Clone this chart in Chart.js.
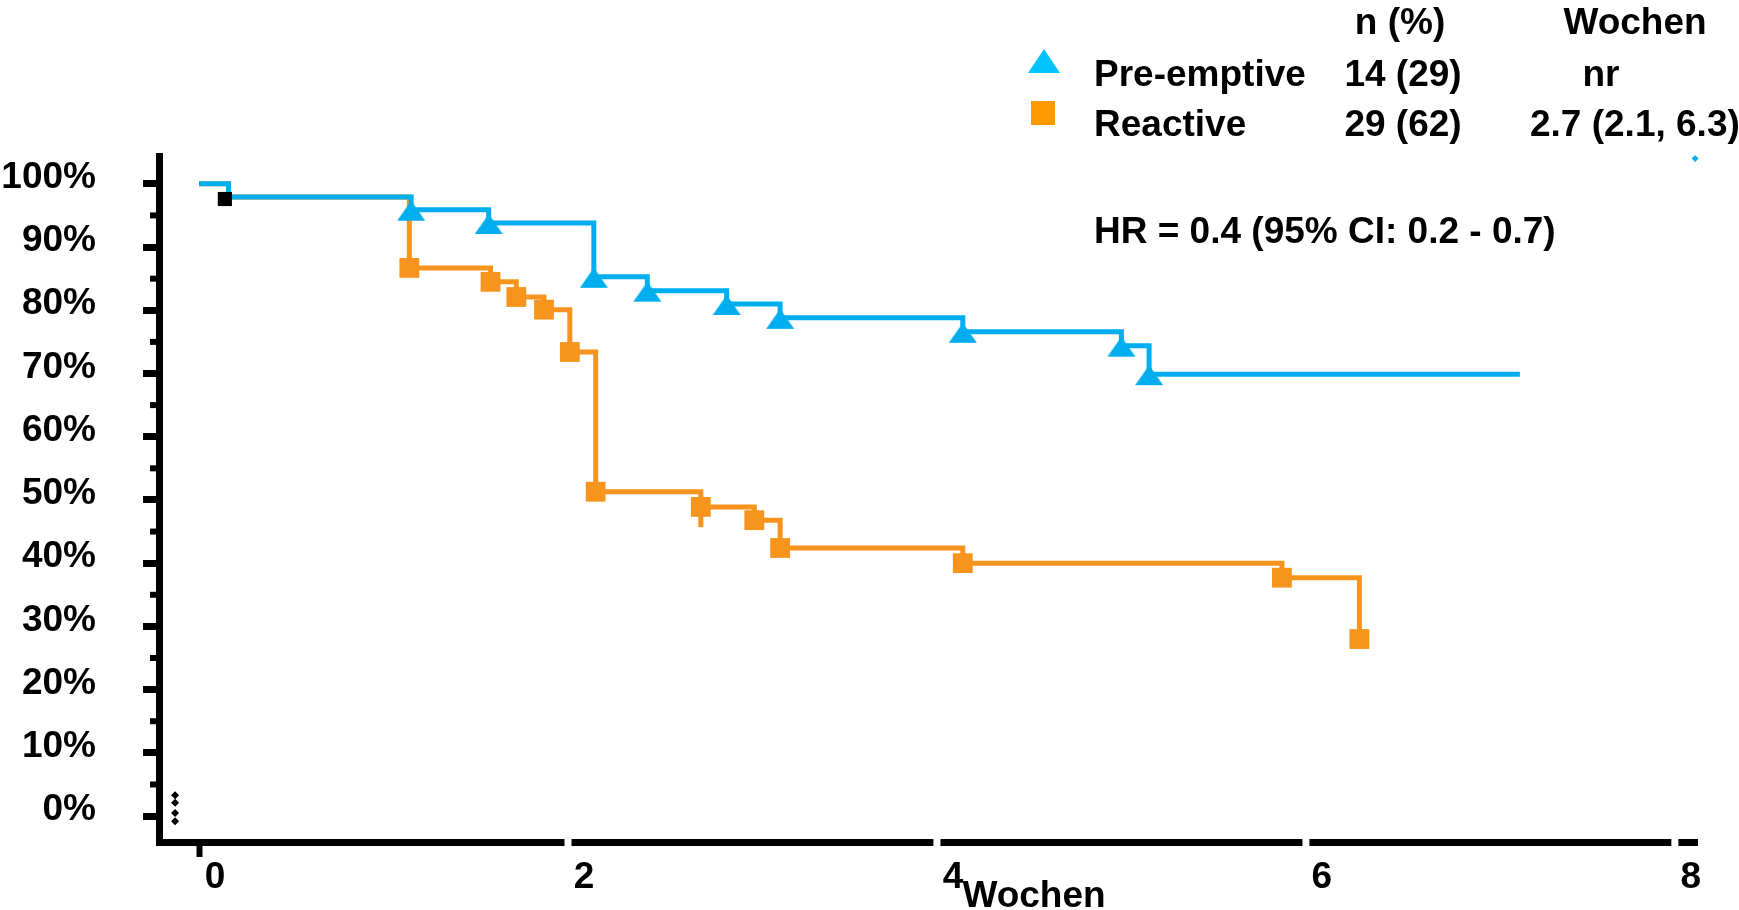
<!DOCTYPE html>
<html>
<head>
<meta charset="utf-8">
<script src="https://cdn.jsdelivr.net/npm/chart.js@4/dist/chart.umd.min.js"></script>
<style>
  html, body { margin: 0; padding: 0; background: #fff; }
  canvas { display: block; }
</style>
</head>
<body>
<canvas id="kmChart" width="1739" height="910"></canvas>
<script>
// Kaplan-Meier curves (x: Wochen, y: %)
const preTimes = [0, 0.16, 1.15, 1.57, 2.14, 2.43, 2.86, 3.15, 4.14, 5.0, 5.15, 7.16];
const preSurv  = [100, 97.9, 95.9, 93.8, 85.3, 83.1, 81.0, 78.8, 76.6, 74.4, 69.9, 69.9];
const preMarks = [0, 0, 1, 1, 1, 1, 1, 1, 1, 1, 1, 0];

const reaTimes = [0, 0.16, 1.14, 1.58, 1.72, 1.87, 2.01, 2.15, 2.72, 3.01, 3.15, 4.14, 5.87, 6.29];
const reaSurv  = [100, 97.9, 86.7, 84.5, 82.1, 80.1, 73.4, 51.3, 48.9, 46.8, 42.4, 40.0, 37.7, 28.0];
const reaMarks = [0, 0, 1, 1, 1, 1, 1, 1, 1, 1, 1, 1, 1, 1];

// stray marks in the original picture
const blackMarkX = [0.14];
const blackMarkY = [97.6];
const censorX = [-0.13, -0.13, -0.13, -0.13];
const censorY = [3.3, 2.1, 0.5, -0.8];
const orangeTickX = [2.72];
const orangeTickY = [46.8];
const blueDotX = [8.11];
const blueDotY = [104];

// table at top right
const tableHead = ['n (%)', 'Wochen'];
const groupNames = ['Pre-emptive', 'Reactive'];
const groupN = ['14 (29)', '29 (62)'];
const groupMedian = ['nr', '2.7 (2.1, 6.3)'];
const hrText = 'HR = 0.4 (95% CI: 0.2 - 0.7)';
const xTitle = 'Wochen';

const FONT = '"Liberation Sans", Arial, Helvetica, sans-serif';
const BLUE = '#00AEEF';
const ORANGE = '#F7941D';

function pts(xs, ys) {
    return xs.map(function(x, i) { return {x: x, y: ys[i]}; });
}

// triangle marker that hangs a bit below the step, like the original
function triangleMarker(color) {
    const c = document.createElement('canvas');
    c.width = 30; c.height = 40;
    const g = c.getContext('2d');
    g.fillStyle = color;
    g.beginPath();
    g.moveTo(15, 11);
    g.lineTo(29, 31);
    g.lineTo(1, 31);
    g.closePath();
    g.fill();
    return c;
}
const triImg = triangleMarker(BLUE);

const decorations = {
    id: 'decorations',
    afterDraw: function(chart) {
        const ctx = chart.ctx;
        const xs = chart.scales.x;
        const ys = chart.scales.y;
        ctx.save();

        // minor ticks on y axis
        ctx.strokeStyle = '#000';
        ctx.lineWidth = 6;
        for (let v = 5; v < 100; v += 10) {
            const py = ys.getPixelForValue(v);
            ctx.beginPath();
            ctx.moveTo(150, py);
            ctx.lineTo(159, py);
            ctx.stroke();
        }
        // white notches in x axis
        ctx.fillStyle = '#fff';
        [2, 4, 6, 8].forEach(function(v) {
            const px = xs.getPixelForValue(v);
            ctx.fillRect(px - 3.5, xs.top - 5, 7, 10);
        });

        ctx.fillStyle = '#000';
        ctx.font = 'bold 37px ' + FONT;
        ctx.textBaseline = 'alphabetic';

        ctx.textAlign = 'center';
        ctx.fillText(tableHead[0], 1400, 34);
        ctx.fillText(tableHead[1], 1635, 34);
        ctx.fillText(groupN[0], 1403, 86);
        ctx.fillText(groupN[1], 1403, 136);
        ctx.fillText(groupMedian[0], 1601, 86);
        ctx.fillText(xTitle, 1034, 907);

        ctx.textAlign = 'left';
        ctx.fillText(groupNames[0], 1094, 86);
        ctx.fillText(groupNames[1], 1094, 136);
        ctx.fillText(groupMedian[1], 1530, 136);
        ctx.fillText(hrText, 1094, 243);

        // legend symbols
        ctx.fillStyle = '#00C4FF';
        ctx.beginPath();
        ctx.moveTo(1044, 49);
        ctx.lineTo(1060, 73);
        ctx.lineTo(1028, 73);
        ctx.closePath();
        ctx.fill();
        ctx.fillStyle = '#FF9900';
        ctx.fillRect(1031, 101, 24, 24);

        ctx.restore();
    }
};

const ctx = document.getElementById('kmChart').getContext('2d');
const myChart = new Chart(ctx, {
    type: 'line',
    data: {
        datasets: [
            {
                label: 'marks',
                data: pts(blackMarkX, blackMarkY),
                showLine: false,
                pointStyle: 'rect',
                pointRadius: 10,
                pointBackgroundColor: '#000',
                pointBorderWidth: 0,
                order: 0
            },
            {
                label: 'censor',
                data: pts(censorX, censorY),
                showLine: false,
                pointStyle: 'rectRot',
                pointRadius: 4,
                pointBackgroundColor: '#000',
                pointBorderWidth: 0,
                clip: false,
                order: 0
            },
            {
                label: 'orange tick',
                data: pts(orangeTickX, orangeTickY),
                showLine: false,
                pointStyle: 'line',
                rotation: 90,
                pointRadius: 7,
                pointBorderColor: ORANGE,
                pointBorderWidth: 5,
                order: 0
            },
            {
                label: 'blue dot',
                data: pts(blueDotX, blueDotY),
                showLine: false,
                pointStyle: 'rectRot',
                pointRadius: 3.5,
                pointBackgroundColor: BLUE,
                pointBorderWidth: 0,
                clip: false,
                order: 0
            },
            {
                label: 'Pre-emptive',
                data: pts(preTimes, preSurv),
                stepped: 'before',
                borderColor: BLUE,
                borderWidth: 5,
                fill: false,
                pointStyle: triImg,
                pointRadius: preMarks.map(function(m) { return m ? 14 : 0; }),
                pointBackgroundColor: BLUE,
                pointBorderWidth: 0,
                order: 1
            },
            {
                label: 'Reactive',
                data: pts(reaTimes, reaSurv),
                stepped: 'before',
                borderColor: ORANGE,
                borderWidth: 5,
                fill: false,
                pointStyle: 'rect',
                pointRadius: reaMarks.map(function(m) { return m ? 14 : 0; }),
                pointBackgroundColor: ORANGE,
                pointBorderWidth: 0,
                order: 2
            }
        ]
    },
    options: {
        responsive: false,
        animation: false,
        layout: { padding: { top: 156, right: 42, bottom: 0, left: 0 } },
        plugins: {
            legend: { display: false },
            tooltip: { enabled: false },
            title: { display: false }
        },
        scales: {
            x: {
                type: 'linear',
                min: -0.217,
                max: 8.12,
                border: { display: true, color: '#000', width: 7 },
                grid: {
                    drawOnChartArea: false,
                    drawTicks: true,
                    tickLength: 15,
                    tickWidth: 6,
                    tickColor: function(c) {
                        return (c.tick && c.tick.value === 0) ? '#000' : 'rgba(0,0,0,0)';
                    }
                },
                ticks: {
                    stepSize: 2,
                    includeBounds: false,
                    autoSkip: false,
                    maxRotation: 0,
                    labelOffset: 16,
                    padding: -1,
                    color: '#000',
                    font: { family: FONT, size: 37, weight: 'bold' }
                },
                afterFit: function(s) {
                    s.height = 68;
                    s.paddingLeft = 0;
                    s.paddingRight = 0;
                }
            },
            y: {
                min: -4.1,
                max: 104.4,
                border: { display: true, color: '#000', width: 7 },
                grid: {
                    drawOnChartArea: false,
                    drawTicks: true,
                    tickLength: 16,
                    tickWidth: 7,
                    tickColor: '#000'
                },
                ticks: {
                    stepSize: 10,
                    includeBounds: false,
                    labelOffset: -6,
                    padding: 47,
                    color: '#000',
                    font: { family: FONT, size: 37, weight: 'bold' },
                    callback: function(v) { return v + '%'; }
                },
                afterFit: function(s) {
                    s.width = 159;
                    s.paddingTop = 0;
                    s.paddingBottom = 0;
                }
            }
        }
    },
    plugins: [decorations]
});
</script>
</body>
</html>
